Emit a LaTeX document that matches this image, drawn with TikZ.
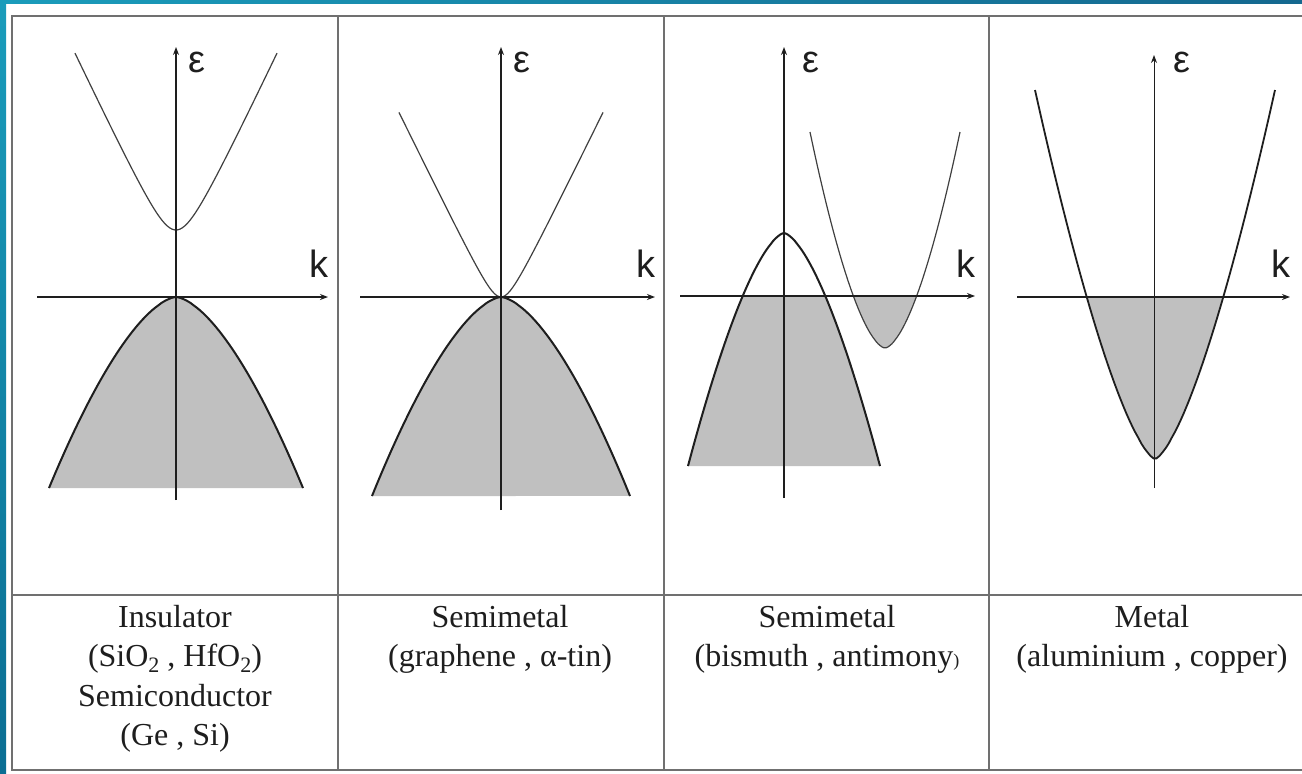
\documentclass[tikz,border=0pt]{standalone}
\usepackage{fontspec}
\setmainfont{Liberation Serif}
\newfontfamily\axfont{Liberation Sans}
\usetikzlibrary{arrows.meta}
\definecolor{tealL}{HTML}{1A9CBB}
\definecolor{tealD}{HTML}{0B6E93}
\definecolor{tealT}{HTML}{15688F}
\definecolor{framec}{HTML}{707070}
\definecolor{bandgray}{HTML}{C0C0C0}
\definecolor{ink}{HTML}{1E1E1E}
\newcommand{\subtwo}{\raisebox{-6pt}{\fontsize{22}{22}\selectfont 2}}
\begin{document}
\begin{tikzpicture}[x=1pt,y=-1pt,
  tbl/.style={draw=framec,line width=1.8pt},
  axisarrow/.style={draw=ink,line width=1.3pt,-{Stealth[length=8pt,width=6pt]}},
  vband/.style={draw=ink,line width=2pt},
  cband/.style={draw=ink!85,line width=1.2pt},
  bandfill/.style={fill=bandgray},
  lbl/.style={font=\fontsize{32}{38}\selectfont,anchor=base,inner sep=0pt,text=ink},
  axlbl/.style={font=\axfont\fontsize{38}{38}\selectfont,inner sep=0pt,text=ink},
]
\useasboundingbox (0,0) rectangle (1302,774);
\fill[white] (0,0) rectangle (1302,774);
% teal border
\shade[top color=tealL,bottom color=tealD] (0,0) rectangle (6,774);
\shade[left color=tealL,right color=tealT] (0,0) rectangle (1302,3);

% table
\draw[tbl] (1302,16) -- (12,16) -- (12,770) -- (1302,770);
\draw[tbl] (12,595) -- (1302,595);
\draw[tbl] (338,16) -- (338,770);
\draw[tbl] (664,16) -- (664,770);
\draw[tbl] (989,16) -- (989,770);

% ---------- panel 1 : insulator ----------
\fill[bandfill] plot[domain=-127:127,samples=80] ({176+\x},{297+191*((abs(\x)+0.001)/127)^1.6}) -- cycle;
\draw[vband] plot[domain=-127:127,samples=80] ({176+\x},{297+191*((abs(\x)+0.001)/127)^1.6});
\draw[cband] plot[domain=-101:101,samples=80] ({176+\x},{230-(10*sqrt(16+(0.211*\x)^2)-40)});
\coordinate (a1l) at (37,297); \coordinate (a1r) at (328,297);
\coordinate (a1b) at (176,500); \coordinate (a1t) at (176,47);
\draw[axisarrow] (a1l) -- (a1r);
\draw[axisarrow] (a1b) -- (a1t);
\node[axlbl,anchor=base west] (e1) at (188,72) {ε};
\node[axlbl,anchor=base east] (k1) at (329,277) {k};

% ---------- panel 2 : graphene ----------
\fill[bandfill] plot[domain=-129:129,samples=80] ({501+\x},{297+199*((abs(\x)+0.001)/129)^1.6}) -- cycle;
\draw[vband] plot[domain=-129:129,samples=80] ({501+\x},{297+199*((abs(\x)+0.001)/129)^1.6});
\draw[cband] plot[domain=-102:102,samples=80] ({501+\x},{297-(10*sqrt(6.25+(0.204*\x)^2)-25)});
\coordinate (a2l) at (360,297); \coordinate (a2r) at (655,297);
\coordinate (a2b) at (501,510); \coordinate (a2t) at (501,47);
\draw[axisarrow] (a2l) -- (a2r);
\draw[axisarrow] (a2b) -- (a2t);
\node[axlbl,anchor=base west] (e2) at (513,72) {ε};
\node[axlbl,anchor=base east] (k2) at (656,277) {k};

% ---------- panel 3 : bismuth ----------
\begin{scope}
  \clip (670,296) rectangle (985,480);
  \fill[bandfill] plot[domain=-96:96,samples=80] ({784+\x},{233+233*((abs(\x)+0.001)/96)^1.55}) -- cycle;
  \fill[bandfill] plot[domain=-75:75,samples=80] ({885+\x},{348-216*((abs(\x)+0.001)/75)^1.65}) -- cycle;
\end{scope}
\draw[vband] plot[domain=-96:96,samples=80] ({784+\x},{233+233*((abs(\x)+0.001)/96)^1.55});
\draw[cband] plot[domain=-75:75,samples=80] ({885+\x},{348-216*((abs(\x)+0.001)/75)^1.65});
\coordinate (a3l) at (680,296); \coordinate (a3r) at (975,296);
\coordinate (a3b) at (784,498); \coordinate (a3t) at (784,47);
\draw[axisarrow] (a3l) -- (a3r);
\draw[axisarrow] (a3b) -- (a3t);
\node[axlbl,anchor=base west] (e3) at (802,72) {ε};
\node[axlbl,anchor=base east] (k3) at (976,277) {k};

% ---------- panel 4 : metal ----------
\begin{scope}
  \clip (1000,297) rectangle (1300,480);
  \fill[bandfill] plot[domain=-120:120,samples=80] ({1155+\x},{459-369*((abs(\x)+0.001)/120)^1.46}) -- cycle;
\end{scope}
\draw[vband,line width=1.8pt] plot[domain=-120:120,samples=80] ({1155+\x},{459-369*((abs(\x)+0.001)/120)^1.46});
\coordinate (a4l) at (1017,297); \coordinate (a4r) at (1290,297);
\coordinate (a4b) at (1154,488); \coordinate (a4t) at (1154,55);
\draw[axisarrow] (a4l) -- (a4r);
\draw[axisarrow,line width=1pt] (a4b) -- (a4t);
\node[axlbl,anchor=base west] (e4) at (1173,72) {ε};
\node[axlbl,anchor=base east] (k4) at (1291,277) {k};

% ---------- labels ----------
\node[lbl] (t1a) at (175,627) {Insulator};
\node[lbl] (t1b) at (175,666) {(SiO\subtwo{} , HfO\subtwo)};
\node[lbl] (t1c) at (175,706) {Semiconductor};
\node[lbl] (t1d) at (175,745) {(Ge , Si)};
\node[lbl] (t2a) at (500,627) {Semimetal};
\node[lbl] (t2b) at (500,666) {(graphene , α-tin)};
\node[lbl] (t3a) at (827,627) {Semimetal};
\node[lbl] (t3b) at (827,666) {(bismuth , antimony{\fontsize{18}{18}\selectfont )}};
\node[lbl] (t4a) at (1152,627) {Metal};
\node[lbl] (t4b) at (1152,666) {(aluminium , copper)};
\end{tikzpicture}
\end{document}
